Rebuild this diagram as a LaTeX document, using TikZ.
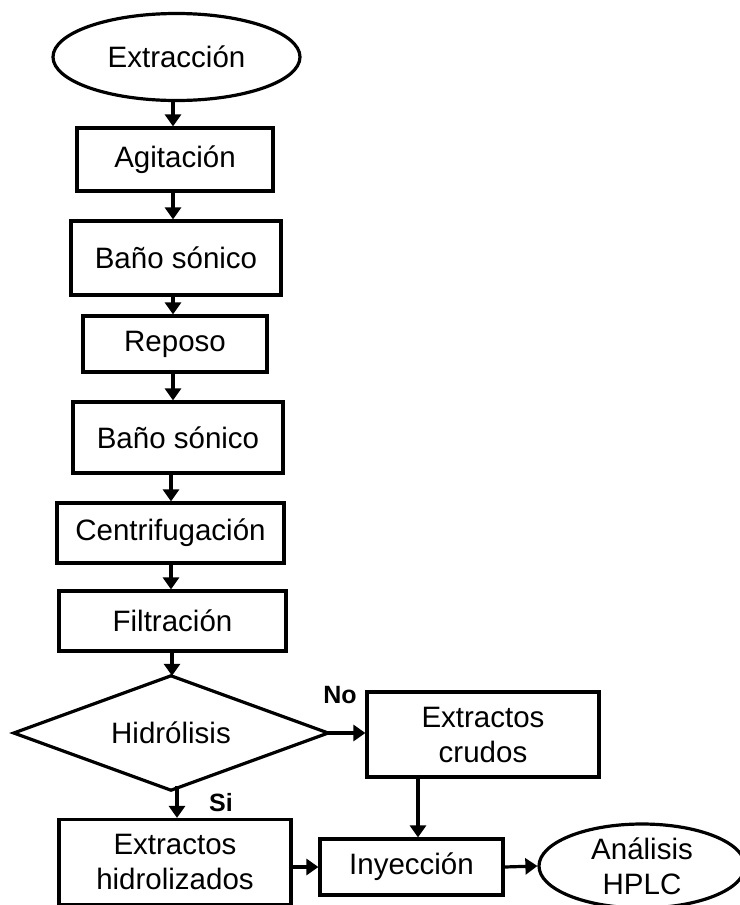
\documentclass[tikz,border=0pt]{standalone}
\usepackage{fontspec}
\setmainfont{Liberation Sans}
\usetikzlibrary{arrows.meta,shapes.geometric}
\begin{document}
\begin{tikzpicture}[x=1pt,y=-1pt,
  every node/.style={font=\fontsize{29.5}{35}\selectfont, inner sep=0pt},
  box/.style={draw, line width=3.2pt, rectangle, align=center},
  oval/.style={draw, line width=3.2pt, ellipse, align=center},
  lbl/.style={font=\fontsize{25}{28}\selectfont\bfseries},
  arr/.style={line width=3.2pt, -{Triangle[length=12pt,width=16pt]}}
]
\useasboundingbox (0,0) rectangle (739,905);
\node[oval, minimum width=247pt, minimum height=87pt] (ext) at (176.5,57) {Extracción};
\node[box, minimum width=196pt, minimum height=63pt] (agit) at (175,159.5) {Agitación};
\node[box, minimum width=210pt, minimum height=74pt] (bano1) at (176,258) {Baño sónico};
\node[box, minimum width=184pt, minimum height=56pt] (rep) at (175,344) {Reposo};
\node[box, minimum width=210pt, minimum height=71pt] (bano2) at (178,437.5) {Baño sónico};
\node[box, minimum width=227pt, minimum height=60pt] (centri) at (170.5,533) {Centrifugación};
\node[box, minimum width=227pt, minimum height=60pt] (filt) at (172.5,621) {Filtración};
\node[minimum width=314pt, minimum height=114pt] (diam) at (171,733) {Hidrólisis};
\draw[line width=3.2pt, line join=miter] (diam.north) -- (diam.east) -- (diam.south) -- (diam.west) -- cycle;
\node[box, minimum width=232pt, minimum height=85pt] (crudos) at (483,734.5) {Extractos\\crudos};
\node[box, minimum width=232pt, minimum height=85pt] (hidro) at (175,862) {Extractos\\hidrolizados};
\node[box, minimum width=183pt, minimum height=56pt] (iny) at (411.5,867) {Inyección};
\node[oval, minimum width=206pt, minimum height=84pt] (anal) at (642,866) {Análisis\\HPLC};
\node[lbl] (no) at (340,695) {No};
\node[lbl] (si) at (221,803) {Si};

\draw[arr] ([yshift=2pt]ext.south -| 173,0) -- (agit.north -| 173,0);
\draw[arr] ([yshift=2pt]agit.south -| 173,0) -- (bano1.north -| 173,0);
\draw[arr] ([yshift=2pt]bano1.south -| 173,0) -- (rep.north -| 173,0);
\draw[arr] ([yshift=2pt]rep.south -| 173,0) -- (bano2.north -| 173,0);
\draw[arr] ([yshift=2pt]bano2.south -| 171,0) -- (centri.north -| 171,0);
\draw[arr] ([yshift=2pt]centri.south -| 171,0) -- (filt.north -| 171,0);
\draw[arr] ([yshift=2pt]filt.south -| 172,0) -- (diam.north -| 172,0);
\draw[arr] (diam.east) -- (crudos.west |- diam.east);
\draw[arr] ([yshift=4pt]diam.south -| 177,0) -- (hidro.north -| 177,0);
\draw[arr] ([yshift=4pt]crudos.south -| 418,0) -- (iny.north -| 418,0);
\draw[arr] (hidro.east |- iny.west) -- (iny.west);
\draw[arr] (iny.east) -- (anal.west);
\end{tikzpicture}
\end{document}
